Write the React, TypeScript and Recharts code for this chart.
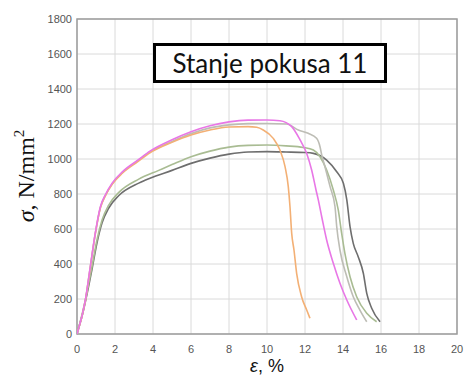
import { CartesianGrid, Label, Line, LineChart, ReferenceArea, XAxis, YAxis } from "recharts";

const strainTicks = [0, 2, 4, 6, 8, 10, 12, 14, 16, 18, 20];
const stressTicks = [0, 200, 400, 600, 800, 1000, 1200, 1400, 1600, 1800];

// strain (%) / stress (N/mm2)
const pinkStrain = [0, 0.44, 0.7, 0.96, 1.23, 1.5, 1.85, 2.4, 3.2, 3.84, 5, 6, 7, 8, 9, 10, 10.68, 11.3, 11.74, 12.09, 12.35, 12.58, 12.7, 12.88, 13.14, 13.49, 13.84, 14.2, 14.72];
const pinkStress = [0, 194, 385, 575, 727, 797, 862, 928, 993, 1045, 1110, 1156, 1190, 1212, 1222, 1223, 1219, 1185, 1109, 1032, 937, 823, 766, 670, 537, 404, 290, 194, 80];

const orangeStrain = [0, 0.44, 0.7, 0.96, 1.23, 1.5, 1.85, 2.4, 3.2, 3.84, 5, 6, 7, 8, 9, 9.46, 9.8, 10.33, 10.68, 10.95, 11.12, 11.21, 11.3, 11.42, 11.56, 11.82, 12.09, 12.26];
const orangeStress = [0, 190, 380, 570, 720, 790, 855, 920, 985, 1035, 1095, 1137, 1166, 1183, 1185, 1181, 1166, 1118, 1051, 956, 842, 727, 575, 480, 347, 213, 137, 90];

const lightStrain = [0, 0.44, 0.7, 0.96, 1.23, 1.5, 1.85, 2.4, 3.2, 3.84, 5, 6, 7, 8, 9, 10, 11.04, 11.65, 12.17, 12.61, 12.79, 12.88, 13.05, 13.32, 13.58, 13.67, 13.84, 14.2, 14.54, 14.89, 15.25];
const lightStress = [0, 192, 382, 572, 722, 793, 858, 924, 990, 1040, 1100, 1145, 1178, 1195, 1202, 1203, 1200, 1166, 1147, 1118, 1070, 1023, 956, 842, 727, 613, 480, 327, 213, 137, 70];

const greenStrain = [0, 0.35, 0.79, 1.05, 1.32, 1.67, 2.19, 3.25, 4.3, 5, 6, 7, 8, 9, 10, 11, 11.91, 12.44, 12.79, 13.14, 13.49, 13.75, 13.93, 14.1, 14.37, 14.72, 15.25, 15.77];
const greenStress = [0, 150, 385, 537, 651, 737, 808, 885, 935, 968, 1013, 1045, 1068, 1078, 1080, 1075, 1066, 1051, 1013, 937, 823, 709, 575, 461, 327, 213, 118, 70];

const darkStrain = [0, 0.35, 0.79, 1.05, 1.32, 1.67, 2.19, 3.25, 3.84, 5, 6, 7, 8, 9, 10, 11, 12, 12.44, 13.14, 13.67, 14.02, 14.2, 14.37, 14.54, 14.8, 15.07, 15.25, 15.51, 15.95];
const darkStress = [0, 140, 370, 520, 635, 720, 790, 862, 890, 935, 975, 1005, 1028, 1040, 1042, 1040, 1037, 1032, 994, 927, 861, 766, 613, 518, 442, 347, 232, 147, 70];

const toPoints = (eps: number[], sigma: number[]) =>
  eps.map((e, i) => ({ eps: e, sigma: sigma[i] }));

const curves = [
  { key: "dark", color: "#6e6e6e", data: toPoints(darkStrain, darkStress) },
  { key: "green", color: "#a9bc93", data: toPoints(greenStrain, greenStress) },
  { key: "light", color: "#bdbdb5", data: toPoints(lightStrain, lightStress) },
  { key: "orange", color: "#f3b075", data: toPoints(orangeStrain, orangeStress) },
  { key: "pink", color: "#e877e6", data: toPoints(pinkStrain, pinkStress) },
];

const tickStyle = { fill: "#555", fontSize: 11, fontFamily: "Liberation Sans, Arial" };

export default function App() {
  return (
    <div style={{ position: "absolute", left: 0, top: 0, width: 467, height: 380, background: "#fff" }}>
      <LineChart width={467} height={380} margin={{ top: 19, right: 10, bottom: 0, left: 0 }}>
        <CartesianGrid stroke="#dadada" />
        <XAxis
          type="number"
          dataKey="eps"
          domain={[0, 20]}
          ticks={strainTicks}
          tick={tickStyle}
          tickLine={false}
          axisLine={false}
          tickSize={8}
          tickMargin={3}
          height={46}
          allowDataOverflow
        >
          <Label
            content={() => (
              <text x={267} y={372} textAnchor="middle" fontSize={18} fontFamily="Liberation Sans, Arial" fill="#111">
                <tspan fontStyle="italic">ε</tspan>
                <tspan>, %</tspan>
              </text>
            )}
          />
        </XAxis>
        <YAxis
          type="number"
          domain={[0, 1800]}
          ticks={stressTicks}
          tick={tickStyle}
          tickLine={false}
          axisLine={false}
          tickSize={3}
          tickMargin={2}
          width={77}
        >
          <Label
            content={() => (
              <text
                x={34}
                y={176}
                transform="rotate(-90 34 176)"
                textAnchor="middle"
                fontSize={24}
                fontFamily="Liberation Serif, Times New Roman"
                fill="#111"
              >
                <tspan fontStyle="italic">σ</tspan>
                <tspan>, N/mm</tspan>
                <tspan fontSize={15} dy={-10}>2</tspan>
              </text>
            )}
          />
        </YAxis>
        <ReferenceArea x1={0} x2={20} y1={0} y2={1800} fill="none" stroke="#9c9c9c" strokeWidth={1.5} />
        {curves.map((c) => (
          <Line
            key={c.key}
            data={c.data}
            dataKey="sigma"
            type="monotone"
            stroke={c.color}
            strokeWidth={1.6}
            dot={false}
            isAnimationActive={false}
          />
        ))}
      </LineChart>
      <div
        style={{
          position: "absolute",
          left: 153,
          top: 43,
          width: 234,
          height: 40,
          boxSizing: "border-box",
          border: "3px solid #000",
          background: "#fff",
          display: "flex",
          alignItems: "center",
          justifyContent: "center",
          fontFamily: "Lato, Open Sans, sans-serif",
          fontSize: 26,
          color: "#111",
        }}
      >
        Stanje pokusa 11
      </div>
    </div>
  );
}
